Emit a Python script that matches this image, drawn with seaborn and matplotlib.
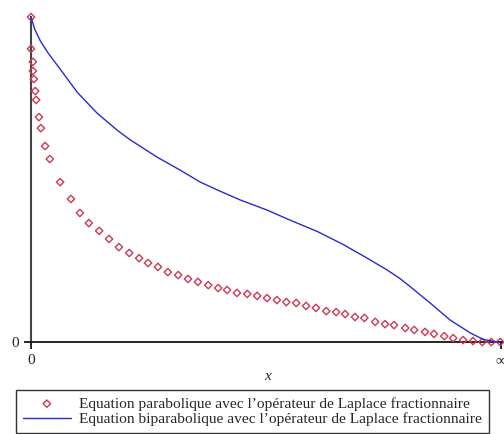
import matplotlib
matplotlib.use("Agg")
import matplotlib.pyplot as plt
import seaborn as sns
import pandas as pd

# Parabolic equation solution (sampled points)
x_para = [0.0, 0.0, 0.004, 0.004, 0.006, 0.009, 0.011, 0.017, 0.021, 0.030, 0.040,
          0.062, 0.085, 0.104, 0.123, 0.145, 0.166, 0.187, 0.209, 0.230, 0.249, 0.270,
          0.291, 0.313, 0.334, 0.355, 0.377, 0.398, 0.417, 0.438, 0.460, 0.481, 0.502,
          0.523, 0.543, 0.564, 0.585, 0.606, 0.628, 0.649, 0.668, 0.689, 0.709, 0.732,
          0.753, 0.772, 0.796, 0.815, 0.838, 0.857, 0.879, 0.898, 0.919, 0.940, 0.960,
          0.979, 0.998]
y_para = [1.0, 0.902, 0.862, 0.834, 0.809, 0.772, 0.745, 0.692, 0.658, 0.603, 0.563,
          0.492, 0.440, 0.397, 0.366, 0.342, 0.317, 0.292, 0.274, 0.258, 0.243, 0.231,
          0.215, 0.206, 0.194, 0.185, 0.175, 0.166, 0.160, 0.151, 0.148, 0.142, 0.135,
          0.129, 0.123, 0.120, 0.111, 0.105, 0.095, 0.092, 0.086, 0.077, 0.074, 0.062,
          0.055, 0.052, 0.043, 0.037, 0.031, 0.025, 0.018, 0.012, 0.006, 0.003, 0.0,
          0.0, 0.0]

# Biparabolic equation solution (continuous curve)
x_bipara = [0.0, 0.008, 0.020, 0.036, 0.068, 0.098, 0.140, 0.183, 0.211, 0.268, 0.317,
            0.360, 0.396, 0.445, 0.502, 0.551, 0.609, 0.664, 0.715, 0.757, 0.785, 0.806,
            0.849, 0.891, 0.934, 0.962, 0.991, 0.998]
y_bipara = [1.0, 0.962, 0.926, 0.890, 0.828, 0.769, 0.705, 0.652, 0.622, 0.569, 0.529,
            0.492, 0.468, 0.437, 0.406, 0.375, 0.340, 0.300, 0.258, 0.222, 0.195, 0.171,
            0.120, 0.068, 0.028, 0.008, 0.0, 0.0]

label_para = "Equation parabolique avec l\u2019opérateur de Laplace fractionnaire"
label_bipara = "Equation biparabolique avec l\u2019opérateur de Laplace fractionnaire"
x_ticks = [0.0, 1.0]
x_tick_labels = ["0", "\u221e"]
y_ticks = [0.0]
y_tick_labels = ["0"]

sns.set_theme(style="white")
plt.rcParams["font.family"] = ["Liberation Serif", "DejaVu Serif"]

fig = plt.figure(figsize=(5.04, 4.34), dpi=100)
ax = fig.add_axes([31 / 504, 1 - 342 / 434, 473 / 504, 325 / 434])

df_para = pd.DataFrame({"x": x_para, "y": y_para})
df_bipara = pd.DataFrame({"x": x_bipara, "y": y_bipara})

sns.scatterplot(data=df_para, x="x", y="y", ax=ax, marker="D", s=14,
                facecolor="none", edgecolor="#d03850", linewidth=1.0,
                label=label_para, clip_on=False, zorder=3)
sns.lineplot(data=df_bipara, x="x", y="y", ax=ax, color="#2a2ad0", linewidth=1.0,
             label=label_bipara, clip_on=False, zorder=4, sort=False)

ax.set_xlim(0, 1.006)
ax.set_ylim(0, 1.0)
ax.set_xticks(x_ticks)
ax.set_xticklabels(x_tick_labels)
ax.set_yticks(y_ticks)
ax.set_yticklabels(y_tick_labels)
ax.tick_params(axis="both", which="both", length=5, width=1.2, color="black",
               labelsize=11, pad=4, bottom=True, left=True)
for side in ("top", "right"):
    ax.spines[side].set_visible(False)
ax.spines["left"].set_color("#444444")
ax.spines["left"].set_linewidth(1.5)
ax.spines["bottom"].set_color("black")
ax.spines["bottom"].set_linewidth(1.2)
ax.set_xlabel("x", fontstyle="italic", fontsize=11, labelpad=2)
ax.set_ylabel("")
ax.grid(False)

ax.legend_.remove()
handles, labels = ax.get_legend_handles_labels()
leg = fig.legend(handles, labels, loc="upper left",
                 bbox_to_anchor=(16 / 504, 1 - 390 / 434),
                 frameon=True, fancybox=False, edgecolor="black",
                 fontsize=11.1, handlelength=3.1, handletextpad=0.55,
                 borderpad=0.45, labelspacing=0.12, borderaxespad=0)
leg.get_frame().set_linewidth(1.0)

fig.savefig("out.png", dpi=100, facecolor="white")
